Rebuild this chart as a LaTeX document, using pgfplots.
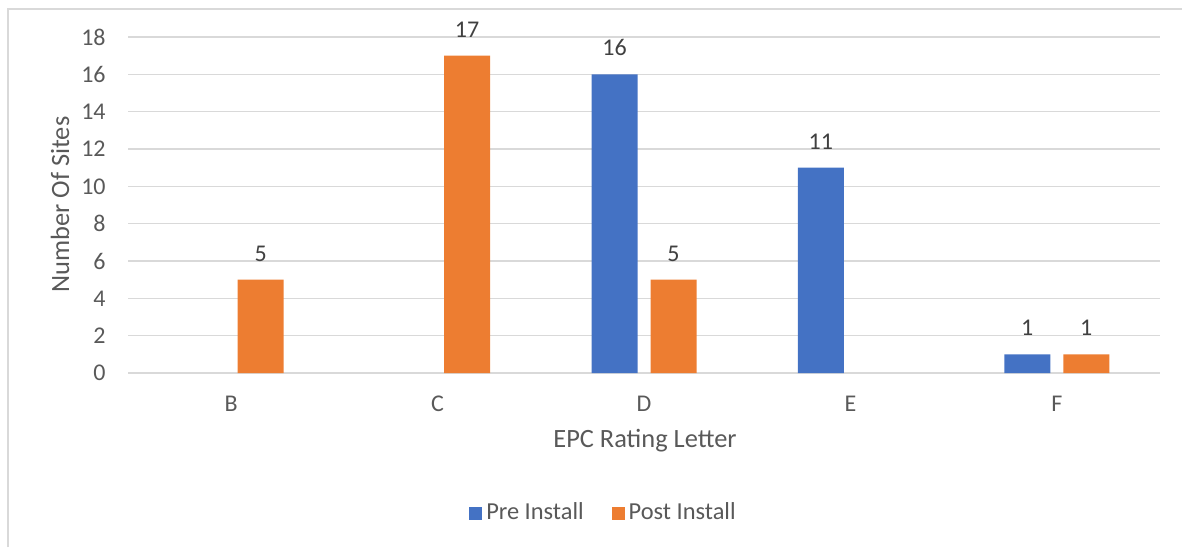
\documentclass[border=0pt]{standalone}
\usepackage{fontspec}
\setmainfont{Carlito}
\usepackage{pgfplots}
\pgfplotsset{compat=1.18}
\definecolor{cPre}{HTML}{4472C4}
\definecolor{cPost}{HTML}{ED7D31}
\definecolor{cText}{HTML}{595959}
\definecolor{cLab}{HTML}{404040}
\definecolor{cGrid}{HTML}{D9D9D9}
\begin{document}
\begin{tikzpicture}
% page = 1182 x 547 px at 0.5pt per px
\useasboundingbox (0,0) rectangle (591pt,-273.5pt);
\draw[cGrid,line width=0.9pt] (4pt,-273.5pt) -- (4pt,-4.5pt) -- (591pt,-4.5pt);
\begin{axis}[
    at={(64pt,-186.5pt)}, anchor=south west,
    scale only axis, width=516pt, height=168pt,
    ybar=6.5pt, bar width=23pt,
    xmin=-0.5, xmax=4.5, ymin=0, ymax=18,
    xtick={0,1,2,3,4}, xticklabels={B,C,D,E,F},
    ytick={0,2,...,18},
    axis line style={draw=none},
    major tick length=0pt,
    ymajorgrids, grid style={cGrid,line width=0.75pt},
    font=\fontsize{12}{14}\selectfont,
    tick label style={text=cText},
    /pgf/number format/assume math mode=true,
    xticklabel style={anchor=north,inner sep=0pt,yshift=-11.5pt},
    yticklabel style={anchor=east,inner sep=0pt,xshift=-11pt},
    nodes near coords,
    nodes near coords style={text=cLab,anchor=south,inner sep=0pt,yshift=9pt,
      font=\fontsize{12}{14}\selectfont},
    legend style={at={(0.4617,-0.4167)},anchor=center,draw=none,
      legend columns=2,font=\fontsize{12.2}{14}\selectfont,text=cText,
      /tikz/every even column/.append style={column sep=12pt}},
    legend image code/.code={\fill[#1] (-1pt,-3.25pt) rectangle (5.5pt,3.25pt);},
]
\addplot[fill=cPre,draw=none] coordinates {(2,16) (3,11) (4,1)};
\addplot[fill=cPost,draw=none] coordinates {(0,5) (1,17) (2,5) (4,1)};
\legend{Pre Install,Post Install}
\end{axis}
\node[rotate=90,text=cText,font=\fontsize{13.2}{15}\selectfont] at (30pt,-102.3pt) {Number Of Sites};
\node[text=cText,font=\fontsize{13.2}{15}\selectfont] at (322.5pt,-220.5pt) {EPC Rating Letter};
\end{tikzpicture}
\end{document}
